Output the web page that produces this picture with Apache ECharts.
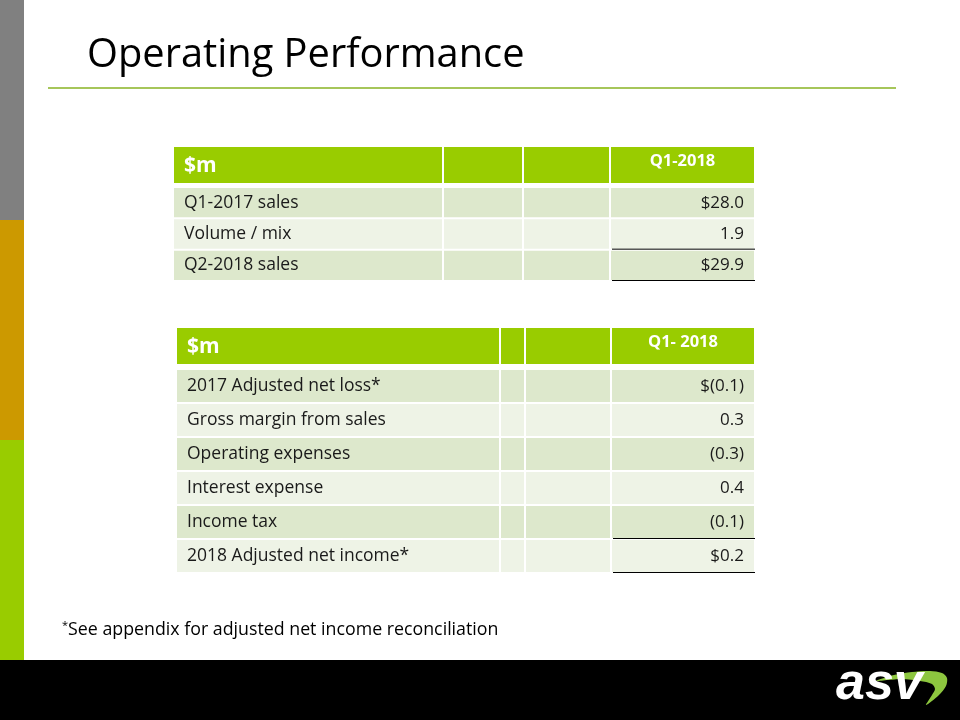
<!DOCTYPE html>
<html><head><meta charset="utf-8">
<script src="https://cdn.jsdelivr.net/npm/echarts@6/dist/echarts.min.js"></script>
<style>html,body{margin:0;padding:0;background:#fff}#c{width:960px;height:720px}</style>
</head><body><div id="c"></div>
<script>
// ---------- data ----------
const titleText = 'Operating Performance';
const footnoteText = 'See appendix for adjusted net income reconciliation';
const unitLabel = '$m';
const table1Period = 'Q1-2018';
const table1Rows = ['Q1-2017 sales', 'Volume / mix', 'Q2-2018 sales'];
const table1Values = [28.0, 1.9, 29.9];
const table2Period = 'Q1- 2018';
const table2Rows = ['2017 Adjusted net loss*', 'Gross margin from sales', 'Operating expenses', 'Interest expense', 'Income tax', '2018 Adjusted net income*'];
const table2Values = [-0.1, 0.3, -0.3, 0.4, -0.1, 0.2];

// ---------- layout ----------
const FONT = '"Open Sans", "Noto Sans", sans-serif';
const T1 = {left: 174, width: 580, headTop: 147, headH: 36, bodyTop: 187, bodyH: 94, cols: [0, 268, 348, 435, 580]};
const T2 = {left: 177, width: 577, headTop: 328, headH: 36, bodyTop: 369, bodyH: 204, cols: [0, 322, 347, 433, 577]};
const C = {head: '#99cc00', dark: '#dde8cc', light: '#eef3e6', text: '#1a1a1a'};

function fitSize(text, family, weight, targetW) {
  const ctx = document.createElement('canvas').getContext('2d');
  ctx.font = weight + ' 100px ' + family;
  return 100 * targetW / ctx.measureText(text).width;
}
function fmt(v, i, n) {
  const s = Math.abs(v).toFixed(1);
  const b = v < 0 ? '(' + s + ')' : s;
  return (i === 0 || i === n - 1) ? '$' + b : b;
}

function headRender(tbl, period) {
  return function (params, api) {
    const h = api.size([0, 1])[1];
    const cy = api.coord([0, 0])[1];
    const y0 = cy - h / 2;
    const ch = [];
    for (let c = 0; c < tbl.cols.length - 1; c++) {
      const xa = api.coord([tbl.cols[c], 0])[0];
      const xb = api.coord([tbl.cols[c + 1], 0])[0];
      const g = c > 0 ? 2 : 0;
      ch.push({type: 'rect', shape: {x: xa + g, y: y0, width: xb - xa - g, height: h}, style: {fill: C.head}});
    }
    const xL = api.coord([0, 0])[0];
    const xa = api.coord([tbl.cols[3], 0])[0];
    const xb = api.coord([tbl.cols[4], 0])[0];
    ch.push({type: 'text', style: {x: xL + 10, y: cy + 1, text: unitLabel, fill: '#fff', font: 'bold 21px ' + FONT, verticalAlign: 'middle', align: 'left'}});
    ch.push({type: 'text', style: {x: (xa + xb) / 2 + 1, y: cy - 4, text: period, fill: '#fff', font: 'bold 16.5px ' + FONT, verticalAlign: 'middle', align: 'center'}});
    return {type: 'group', children: ch};
  };
}

function bodyRender(tbl, labels, vals) {
  const n = labels.length;
  return function (params, api) {
    const i = api.value(1);
    const h = api.size([0, 1])[1];
    const cy = api.coord([0, i])[1];
    const y0 = cy - h / 2;
    const fill = i % 2 === 0 ? C.dark : C.light;
    const ch = [];
    for (let c = 0; c < tbl.cols.length - 1; c++) {
      const xa = api.coord([tbl.cols[c], i])[0];
      const xb = api.coord([tbl.cols[c + 1], i])[0];
      const g = c > 0 ? 2 : 0;
      ch.push({type: 'rect', shape: {x: xa + g, y: y0 + 1, width: xb - xa - g, height: h - 2}, style: {fill}});
    }
    const xL = api.coord([0, i])[0];
    const xR = api.coord([tbl.cols[4], i])[0];
    const xV = api.coord([tbl.cols[3], i])[0];
    ch.push({type: 'text', style: {x: xL + 10, y: cy, text: labels[i], fill: C.text, font: '17.5px ' + FONT, verticalAlign: 'middle', align: 'left'}});
    ch.push({type: 'text', style: {x: xR - 10, y: cy, text: fmt(vals[i], i, n), fill: C.text, font: '17px ' + FONT, verticalAlign: 'middle', align: 'right'}});
    if (i >= n - 2) {
      ch.push({type: 'line', shape: {x1: xV + 3, y1: y0 + h - 0.5, x2: xR + 1, y2: y0 + h - 0.5}, style: {stroke: '#000', lineWidth: 1}});
    }
    return {type: 'group', children: ch};
  };
}

const tables = [
  {t: T1, rows: table1Rows, vals: table1Values, period: table1Period},
  {t: T2, rows: table2Rows, vals: table2Values, period: table2Period}
];
const grid = [], xAxis = [], yAxis = [], series = [];
tables.forEach((tb, k) => {
  const t = tb.t;
  grid.push({left: t.left, top: t.headTop, width: t.width, height: t.headH});
  grid.push({left: t.left, top: t.bodyTop, width: t.width, height: t.bodyH});
  [0, 1].forEach(j => {
    const gi = k * 2 + j;
    xAxis.push({type: 'value', gridIndex: gi, min: 0, max: t.width, show: false});
    yAxis.push({type: 'category', gridIndex: gi, inverse: true, show: false,
      data: j === 0 ? ['header'] : tb.rows});
  });
  series.push({type: 'custom', xAxisIndex: k * 2, yAxisIndex: k * 2, data: [[0, 0]], encode: {x: 0, y: 1},
    renderItem: headRender(t, tb.period), silent: true});
  series.push({type: 'custom', xAxisIndex: k * 2 + 1, yAxisIndex: k * 2 + 1,
    data: tb.rows.map((r, i) => [0, i]), encode: {x: 0, y: 1},
    renderItem: bodyRender(t, tb.rows, tb.vals), silent: true});
});

const titleSize = fitSize(titleText, FONT, 'normal', 438);
const footSize = fitSize(footnoteText, FONT, 'normal', 432);

const swoosh = [[876,681],[894,675],[912,672],[930,671],[942,673],[947,678],[946,686],[939,695],[926,705],[932,695],[935,689],[932,684],[920,681],[902,679],[888,680]];

const graphic = [
  {type: 'rect', shape: {x: 0, y: 0, width: 24, height: 220}, style: {fill: '#808080'}, silent: true},
  {type: 'rect', shape: {x: 0, y: 220, width: 24, height: 220}, style: {fill: '#cc9900'}, silent: true},
  {type: 'rect', shape: {x: 0, y: 440, width: 24, height: 220}, style: {fill: '#99cc00'}, silent: true},
  {type: 'rect', shape: {x: 0, y: 660, width: 960, height: 60}, style: {fill: '#000'}, silent: true},
  {type: 'line', shape: {x1: 48, y1: 88, x2: 896, y2: 88}, style: {stroke: '#a6c65a', lineWidth: 2}, silent: true},
  {type: 'text', x: 87, y: 56, style: {text: titleText, font: titleSize.toFixed(1) + 'px ' + FONT, fill: '#000', verticalAlign: 'middle'}, silent: true},
  {type: 'text', x: 62, y: 630, style: {text: '{s|*}' + footnoteText, font: footSize.toFixed(1) + 'px ' + FONT, fill: '#000', verticalAlign: 'middle',
    rich: {s: {fontSize: 11, verticalAlign: 'top', padding: [0, 0, 8, 0], fontFamily: FONT}}}, silent: true},
  // logo
  {type: 'polygon', shape: {points: swoosh, smooth: 0.3}, style: {fill: '#8dc63f'}, silent: true},
  {type: 'text', x: 836, y: 711, style: {text: 'asv', font: 'italic bold 52px "Liberation Sans", Arial, sans-serif', fill: '#fff', verticalAlign: 'bottom'}, silent: true}
];

const chart = echarts.init(document.getElementById('c'), null, {renderer: 'canvas'});
chart.setOption({animation: false, backgroundColor: '#fff', grid, xAxis, yAxis, series, graphic});
</script>
</body></html>
